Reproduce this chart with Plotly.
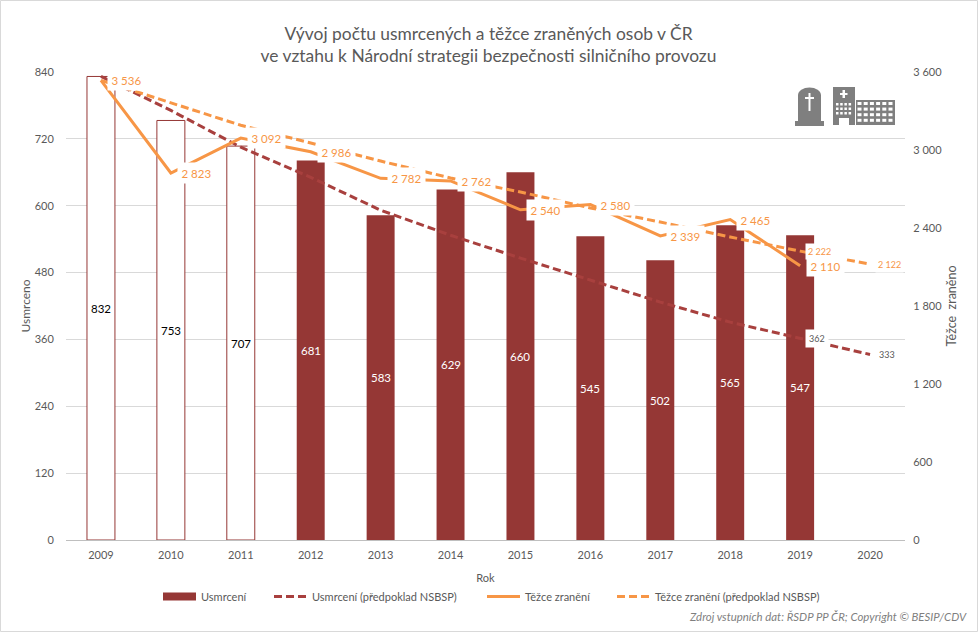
import plotly.graph_objects as go

years = [str(y) for y in range(2009, 2021)]
usmrceni = [832, 753, 707, 681, 583, 629, 660, 545, 502, 565, 547]
usmrceni_nsbsp = [832, 771, 705, 651, 592, 547, 506, 467, 427, 391, 362, 333]
zraneni = [3536, 2823, 3092, 2986, 2782, 2762, 2540, 2580, 2339, 2465, 2110]
zraneni_nsbsp = [3536, 3362, 3190, 3054, 2915, 2785, 2677, 2554, 2446, 2331, 2222, 2122]
hollow_count = 3

TITLE = "Vývoj počtu usmrcených a těžce zraněných osob v ČR<br>ve vztahu k Národní strategii bezpečnosti silničního provozu"
SOURCE = "Zdroj vstupních dat: ŘSDP PP ČR; Copyright © BESIP/CDV"
FONT = "Lato"
GREY = "#595959"
BAR = "#953735"
DASHRED = "#A8403E"
ORANGE = "#F79646"
ICON = "#7F7F7F"

W, H = 978, 632
L, R, T, B = 66, 905, 72, 540

def px(x):
    return (x - L) / (R - L)

def py(y):
    return (B - y) / (B - T)

def fmt(v):
    return f"{v:,}".replace(",", " ")

fig = go.Figure()
fig.add_bar(x=years[:hollow_count], y=usmrceni[:hollow_count], width=0.4, showlegend=False,
            marker=dict(color="white", line=dict(color=BAR, width=1)), hoverinfo="skip")
fig.add_bar(x=years[hollow_count:len(usmrceni)], y=usmrceni[hollow_count:], width=0.4, name="Usmrcení",
            showlegend=False, marker=dict(color=BAR, line=dict(width=0)))
fig.add_scatter(x=[None], y=[None], mode="lines", name="Usmrcení", legend="legend",
                line=dict(color=BAR, width=8))
fig.add_scatter(x=years, y=usmrceni_nsbsp, mode="lines", name="Usmrcení (předpoklad NSBSP)", legend="legend2",
                line=dict(color=DASHRED, width=3, dash="8px,4px"))
fig.add_scatter(x=years[:len(zraneni)], y=zraneni, yaxis="y2", mode="lines", name="Těžce zranění", legend="legend3",
                line=dict(color=ORANGE, width=3))
fig.add_scatter(x=years, y=zraneni_nsbsp, yaxis="y2", mode="lines", name="Těžce zranění (předpoklad NSBSP)",
                legend="legend4", line=dict(color=ORANGE, width=3, dash="8px,4px"))

ann = []
for i, v in enumerate(usmrceni):
    ann.append(dict(x=i, y=v / 2, xref="x", yref="y", text=str(v), showarrow=False,
                    font=dict(family=FONT, size=11.5, color="black" if i < hollow_count else "white")))
for i, v in enumerate(zraneni):
    ann.append(dict(x=i, y=v, xref="x", yref="y2", text=fmt(v), showarrow=False, xanchor="left", xshift=6,
                    bgcolor="white", borderpad=3.5, font=dict(family=FONT, size=11.5, color=ORANGE)))
for i in (10, 11):
    ann.append(dict(x=i, y=zraneni_nsbsp[i], xref="x", yref="y2", text=fmt(zraneni_nsbsp[i]), showarrow=False,
                    xanchor="left", xshift=5, bgcolor="white", borderpad=2,
                    font=dict(family=FONT, size=9, color=ORANGE)))
    ann.append(dict(x=i, y=usmrceni_nsbsp[i], xref="x", yref="y", text=str(usmrceni_nsbsp[i]), showarrow=False,
                    xanchor="left", xshift=5, bgcolor="white", borderpad=3,
                    font=dict(family=FONT, size=9, color=GREY)))
ann.append(dict(x=px(969), y=py(616), xref="paper", yref="paper", text=f"<i>{SOURCE}</i>", showarrow=False,
                xanchor="right", yanchor="middle", font=dict(family=FONT, size=11.4, color="#7F7F7F")))

def rect(x0, y0, x1, y1, color):
    return dict(type="rect", xref="paper", yref="paper", x0=px(x0), x1=px(x1), y0=py(y0), y1=py(y1),
                fillcolor=color, line=dict(width=0), layer="above")

shapes = [dict(type="rect", xref="paper", yref="paper", x0=px(0.5), x1=px(W - 0.5), y0=py(0.5), y1=py(H - 0.5),
               line=dict(color="#D9D9D9", width=1), fillcolor="rgba(0,0,0,0)", layer="below")]
# gravestone
shapes.append(rect(798, 95, 821, 121, ICON))
shapes.append(dict(type="circle", xref="paper", yref="paper", x0=px(798), x1=px(821), y0=py(87.5), y1=py(103),
                   fillcolor=ICON, line=dict(width=0), layer="above"))
shapes.append(rect(795, 121, 824, 126, ICON))
shapes.append(rect(808.5, 93, 810.5, 111, "white"))
shapes.append(rect(805, 97, 814, 99, "white"))
# hospital
shapes.append(rect(833, 87, 855, 125, ICON))
shapes.append(rect(856, 100, 895, 125, ICON))
shapes.append(rect(842.5, 90, 845, 98, "white"))
shapes.append(rect(840, 93, 847.5, 95, "white"))
for row in range(3):
    for col in range(4):
        shapes.append(rect(836 + col * 4.2, 103 + row * 4.5, 838.5 + col * 4.2, 105.5 + row * 4.5, "white"))
shapes.append(rect(839, 118, 849, 125, "white"))
for row in range(4):
    for col in range(6):
        shapes.append(rect(857.5 + col * 6.2, 102 + row * 5.6, 861.5 + col * 6.2, 105 + row * 5.6, "white"))

axis_font = dict(family=FONT, size=11, color=GREY)
CLEAR = "rgba(0,0,0,0)"

def legend_at(x):
    return dict(orientation="h", x=px(x), xanchor="left", y=py(582), yanchor="top", font=axis_font,
                itemwidth=33, bgcolor=CLEAR)

fig.update_layout(
    width=W, height=H, autosize=False,
    margin=dict(l=L, r=W - R, t=T, b=H - B, pad=0),
    paper_bgcolor="white", plot_bgcolor="white",
    separators=", ",
    barmode="overlay",
    font=dict(family=FONT, color=GREY),
    title=dict(text=TITLE, x=0.5036, xanchor="center", xref="paper", y=0.937, yanchor="middle",
               font=dict(family=FONT, size=17.4, color=GREY)),
    xaxis=dict(type="category", categoryorder="array", categoryarray=years, range=[-0.5, 11.5],
               title=dict(text="Rok", font=axis_font, standoff=14), tickfont=axis_font, showgrid=False,
               showline=True, linecolor="#BFBFBF", ticks="outside", ticklen=5, tickcolor=CLEAR),
    yaxis=dict(range=[0, 840], dtick=120, title=dict(text="Usmrceno", font=dict(family=FONT, size=12, color=GREY), standoff=1),
               tickfont=axis_font, showgrid=True, gridcolor="#D9D9D9", zeroline=False, showline=False,
               ticks="outside", ticklen=9, tickcolor=CLEAR),
    yaxis2=dict(range=[0, 3600], dtick=600, overlaying="y", side="right", tickformat=",d",
                title=dict(text="Těžce\u00a0\u00a0zraněno", font=dict(family=FONT, size=12.5, color=GREY), standoff=6),
                tickfont=axis_font, showgrid=False, zeroline=False, showline=False,
                ticks="outside", ticklen=5, tickcolor=CLEAR),
    legend=legend_at(158),
    legend2=legend_at(269),
    legend3=legend_at(482),
    legend4=legend_at(612),
    annotations=ann, shapes=shapes,
)
fig.write_html("out.html", post_script="document.body.style.margin='0';", config={"displayModeBar": False})
